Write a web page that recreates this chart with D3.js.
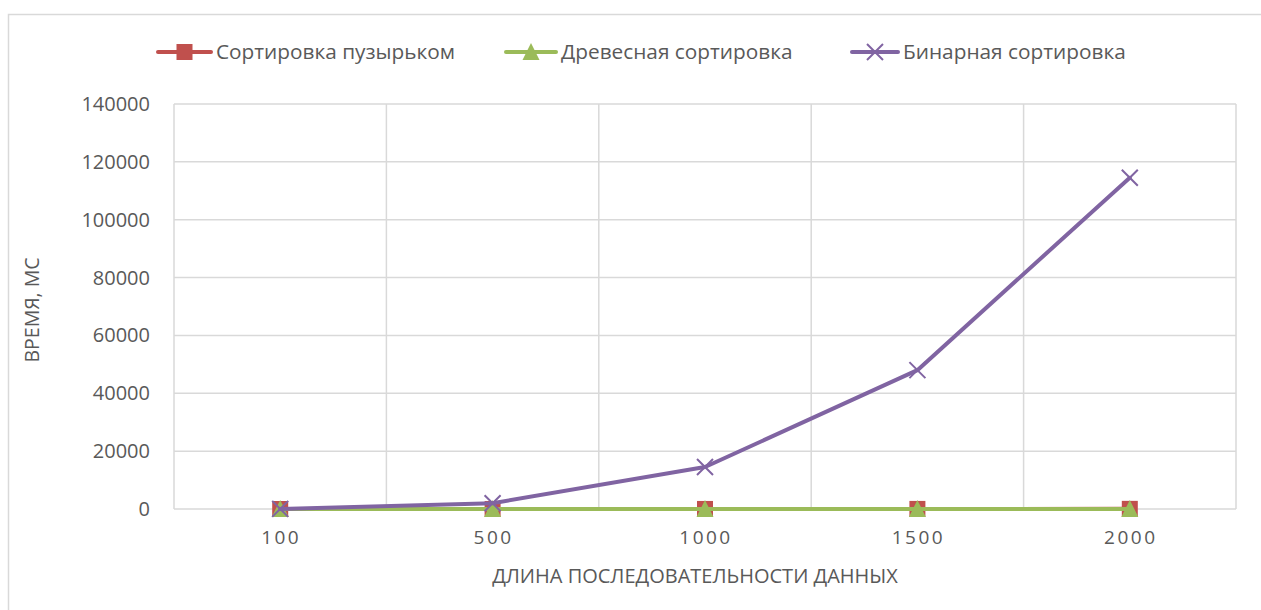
<!DOCTYPE html>
<html>
<head>
<meta charset="utf-8">
<script src="https://cdn.jsdelivr.net/npm/d3@7"></script>
<style>
  html, body { margin: 0; padding: 0; background: #fff; }
  svg { display: block; font-family: "Open Sans", "Noto Sans", sans-serif; }
</style>
</head>
<body>
<svg id="chart" width="1261" height="610"></svg>
<script>
// Sequence lengths (categories)
const lengths = ["100", "500", "1000", "1500", "2000"];
// Sorting time, ms
const bubbleSort = [0, 5, 15, 30, 50];
const treeSort   = [0, 2, 5, 8, 11];
const binarySort = [30, 2000, 14500, 48000, 114500];
// Y axis ticks
const yTicks = [0, 20000, 40000, 60000, 80000, 100000, 120000, 140000];

const seriesNames = ["Сортировка пузырьком", "Древесная сортировка", "Бинарная сортировка"];
const colors = ["#C0504D", "#9BBB59", "#8064A2"];
const markers = ["square", "triangle", "cross"];

const svg = d3.select("#chart");
const W = 1261, H = 610;
const plot = { left: 174, right: 1236, top: 104, bottom: 509 };

// outer chart frame
svg.append("path")
  .attr("d", `M8.5,${H + 2} V14.5 H${W + 2}`)
  .attr("fill", "none").attr("stroke", "#D9D9D9").attr("stroke-width", 1.5);

const x = d3.scaleBand().domain(lengths).range([plot.left, plot.right]).padding(0);
const y = d3.scaleLinear().domain([0, 140000]).range([plot.bottom, plot.top]);

// horizontal gridlines
svg.append("g").selectAll("line").data(yTicks).join("line")
  .attr("x1", plot.left).attr("x2", plot.right)
  .attr("y1", d => y(d)).attr("y2", d => y(d))
  .attr("stroke", "#D9D9D9").attr("stroke-width", 1.5);

// vertical gridlines on category boundaries
const bounds = lengths.map(c => x(c)).concat([x(lengths[lengths.length - 1]) + x.bandwidth()]);
svg.append("g").selectAll("line").data(bounds).join("line")
  .attr("x1", d => d).attr("x2", d => d)
  .attr("y1", plot.top).attr("y2", plot.bottom)
  .attr("stroke", "#D9D9D9").attr("stroke-width", 1.5);

// y tick labels
svg.append("g").selectAll("text").data(yTicks).join("text")
  .attr("x", 150).attr("y", d => y(d)).attr("dy", "0.35em")
  .attr("text-anchor", "end").attr("font-size", 20).attr("fill", "#595959")
  .text(d => d);

// x tick labels
svg.append("g").selectAll("text").data(lengths).join("text")
  .attr("x", d => x(d) + x.bandwidth() / 2 + 1).attr("y", 544)
  .attr("text-anchor", "middle").attr("font-size", 19).attr("fill", "#595959")
  .attr("letter-spacing", "2.5px")
  .text(d => d);

// axis titles
svg.append("text")
  .attr("x", 695).attr("y", 583).attr("text-anchor", "middle")
  .attr("font-size", 20).attr("fill", "#595959")
  .text("ДЛИНА ПОСЛЕДОВАТЕЛЬНОСТИ ДАННЫХ");
svg.append("text")
  .attr("transform", "translate(39,310) rotate(-90)")
  .attr("text-anchor", "middle").attr("font-size", 19.5).attr("fill", "#595959")
  .text("ВРЕМЯ, МС");

function drawMarker(g, type, color, cx, cy) {
  if (type === "square") {
    g.append("rect").attr("x", cx - 8).attr("y", cy - 8).attr("width", 16).attr("height", 16)
      .attr("fill", color);
  } else if (type === "triangle") {
    g.append("path").attr("d", `M${cx},${cy - 9} L${cx + 8.5},${cy + 8} L${cx - 8.5},${cy + 8} Z`)
      .attr("fill", color);
  } else {
    g.append("path").attr("d", `M${cx - 8},${cy - 8} L${cx + 8},${cy + 8} M${cx + 8},${cy - 8} L${cx - 8},${cy + 8}`)
      .attr("stroke", color).attr("stroke-width", 2).attr("fill", "none");
  }
}

const allSeries = [bubbleSort, treeSort, binarySort];
const line = d3.line()
  .x((d, i) => x(lengths[i]) + x.bandwidth() / 2)
  .y(d => y(d));

allSeries.forEach((vals, si) => {
  const g = svg.append("g");
  g.append("path").datum(vals).attr("d", line)
    .attr("fill", "none").attr("stroke", colors[si]).attr("stroke-width", 4)
    .attr("stroke-linejoin", "round").attr("stroke-linecap", "round");
  vals.forEach((v, i) => drawMarker(g, markers[si], colors[si], x(lengths[i]) + x.bandwidth() / 2, y(v)));
});

// legend
const legendItems = [
  { lx1: 158, lx2: 211, tx: 216 },
  { lx1: 506, lx2: 556, tx: 561 },
  { lx1: 852, lx2: 898, tx: 903 }
];
const ly = 52;
legendItems.forEach((it, i) => {
  const g = svg.append("g");
  g.append("line").attr("x1", it.lx1).attr("x2", it.lx2).attr("y1", ly).attr("y2", ly)
    .attr("stroke", colors[i]).attr("stroke-width", 4).attr("stroke-linecap", "round");
  drawMarker(g, markers[i], colors[i], (it.lx1 + it.lx2) / 2, ly);
  g.append("text").attr("x", it.tx).attr("y", ly).attr("dy", "0.35em")
    .attr("font-size", 20.8).attr("fill", "#595959").text(seriesNames[i]);
});
</script>
</body>
</html>
